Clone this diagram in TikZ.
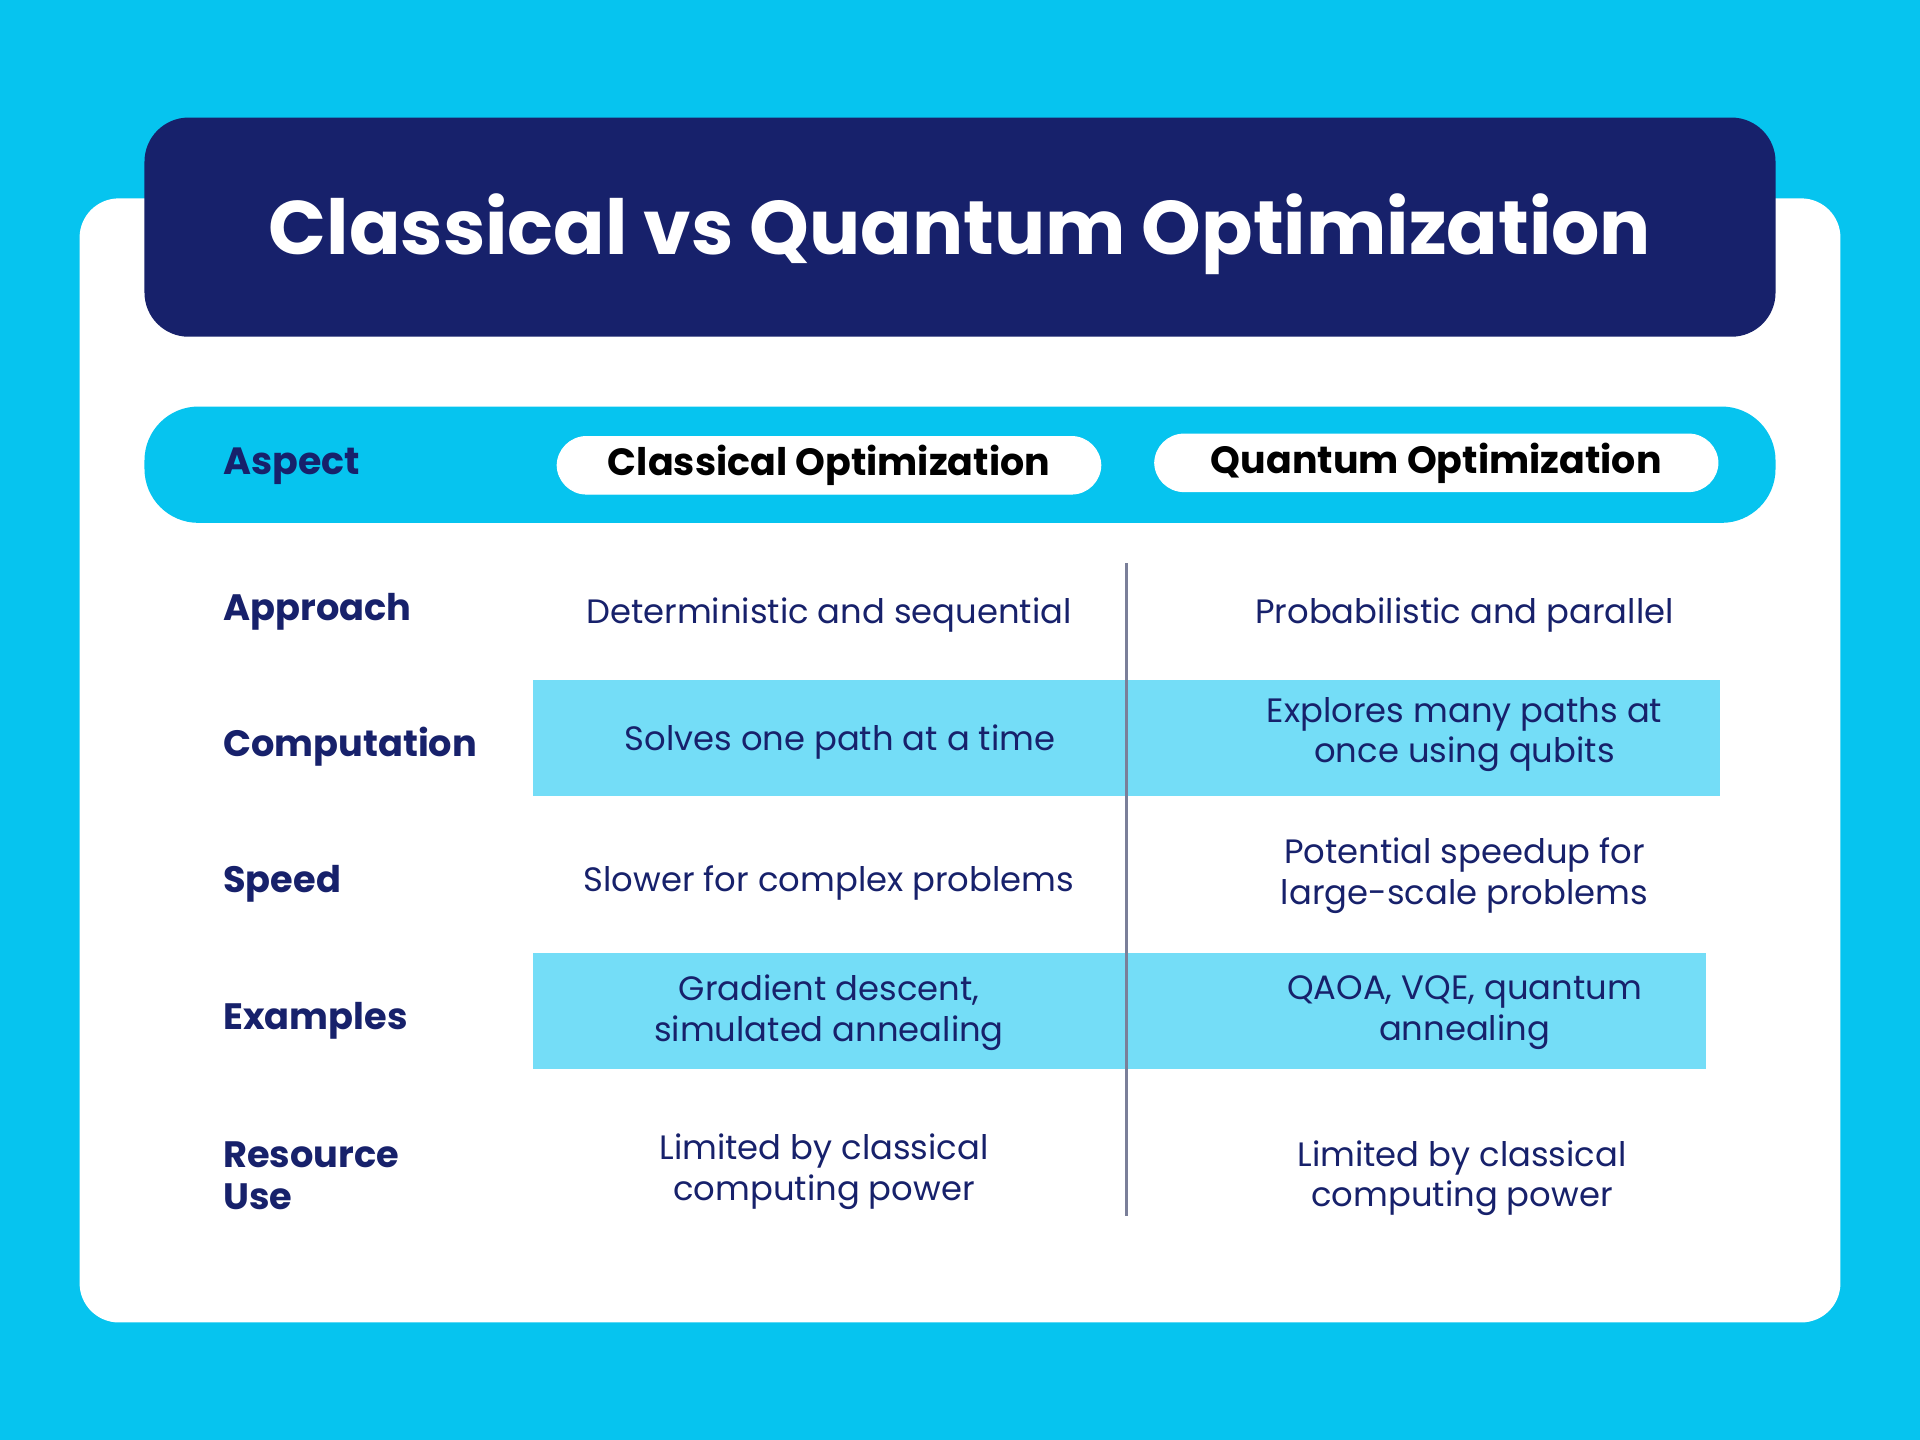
\documentclass[tikz,border=0pt]{standalone}
\usepackage{fontspec}
\setmainfont{Poppins}
\usepackage{tikz}
\definecolor{skyblue}{HTML}{06C4EF}
\definecolor{navyblue}{HTML}{17216B}
\definecolor{lightband}{HTML}{74DDF7}
\definecolor{divgray}{HTML}{7A7F99}

\begin{document}
\begin{tikzpicture}[x=0.5pt,y=-0.5pt]
  \tikzset{LabelStyle/.style = {
    anchor        = west,
    text          = navyblue,
    font          = \fontsize{15}{17}\selectfont\bfseries,
    align         = left,
    inner sep     = 0pt
    }
  }
  \tikzset{CellStyle/.style = {
    text          = navyblue,
    font          = \fontsize{13.8}{16.5}\selectfont,
    align         = center,
    inner sep     = 0pt
    }
  }
  \tikzset{PillStyle/.style = {
    shape         = rectangle,
    rounded corners = 12pt,
    fill          = white,
    draw          = white,
    text          = black,
    font          = \fontsize{15.5}{18}\selectfont\bfseries
    }
  }

  % background and panels
  \fill[skyblue] (0,0) rectangle (1568,1176);
  \fill[white, rounded corners=16pt] (65,162) rectangle (1503,1080);
  \fill[navyblue, rounded corners=18pt] (118,96) rectangle (1450,275);
  \node[text=white, font=\fontsize{31}{36}\selectfont\bfseries] (Title) at (784,191)
        {Classical vs Quantum Optimization};
  \fill[skyblue, rounded corners=22pt] (118,332) rectangle (1450,427);

  % header
  \node[LabelStyle, font=\fontsize{15.5}{18}\selectfont\bfseries] (Aspect) at (182,381) {Aspect};
  \node[PillStyle, minimum width=222pt, minimum height=23.5pt] (HeadC) at (677,380) {Classical Optimization};
  \node[PillStyle, minimum width=230pt, minimum height=23.5pt] (HeadQ) at (1173,378) {Quantum Optimization};

  % shaded rows and divider
  \fill[lightband] (435,555) rectangle (1405,650);
  \fill[lightband] (435,778) rectangle (1393,873);
  \coordinate (DivTop) at (920,460);
  \coordinate (DivBot) at (920,993);
  \draw[divgray, line width=1pt] (DivTop) -- (DivBot);

  % rows
  \node[LabelStyle] (Approach) at (182,500) {Approach};
  \node[LabelStyle] (Computation) at (182,610) {Computation};
  \node[LabelStyle] (Speed) at (182,722) {Speed};
  \node[LabelStyle] (Examples) at (182,834) {Examples};
  \node[LabelStyle] (Resource) at (182,960) {Resource\\Use};

  \node[CellStyle] (C1) at (677,502) {Deterministic and sequential};
  \node[CellStyle] (Q1) at (1196,502) {Probabilistic and parallel};
  \node[CellStyle] (C2) at (686,606) {Solves one path at a time};
  \node[CellStyle] (Q2) at (1196,600) {Explores many paths at\\once using qubits};
  \node[CellStyle] (C3) at (677,721) {Slower for complex problems};
  \node[CellStyle] (Q3) at (1196,715) {Potential speedup for\\large-scale problems};
  \node[CellStyle] (C4) at (677,827) {Gradient descent,\\simulated annealing};
  \node[CellStyle] (Q4) at (1196,827) {QAOA, VQE, quantum\\annealing};
  \node[CellStyle] (C5) at (673,957) {Limited by classical\\computing power};
  \node[CellStyle] (Q5) at (1194,962) {Limited by classical\\computing power};
\end{tikzpicture}
\end{document}
